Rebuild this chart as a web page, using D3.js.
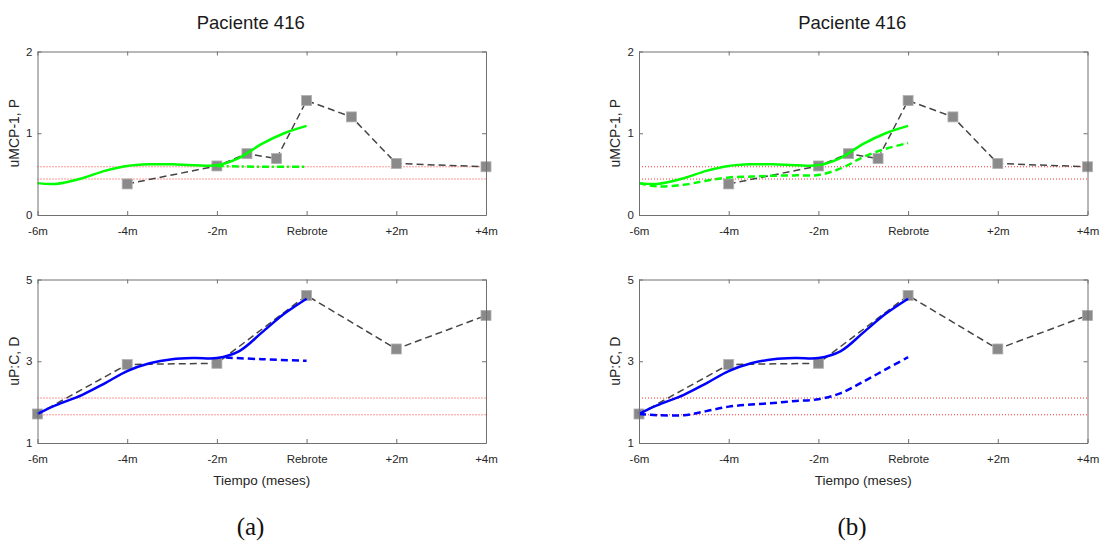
<!DOCTYPE html>
<html>
<head>
<meta charset="utf-8">
<script src="https://d3js.org/d3.v7.min.js"></script>
<style>
  body { margin: 0; background: #fff; }
  svg { display: block; font-family: "Liberation Sans", Arial, sans-serif; }
</style>
</head>
<body>
<svg width="1102" height="547"></svg>
<script>
// x ticks (months relative to the relapse)
var tickMonths = [-6, -4, -2, 0, 2, 4];
var tickLabels = ["-6m", "-4m", "-2m", "Rebrote", "+2m", "+4m"];

// uMCP-1 measurements (grey squares)
var mcpMonths = [-4, -2, -1.33, -0.67, 0, 1, 2, 4];
var mcpValues = [0.38, 0.60, 0.75, 0.69, 1.40, 1.20, 0.63, 0.59];
var mcpLimits = [0.59, 0.44];
var mcpTicks = [0, 1, 2];

// uP:C measurements (grey squares)
var pcMonths = [-6, -4, -2, 0, 2, 4];
var pcValues = [1.71, 2.92, 2.95, 4.61, 3.30, 4.12];
var pcLimits = [2.10, 1.69];
var pcTicks = [1, 3, 5];

// model curves
var fitMonths = [-6, -5.6, -5, -4.5, -4, -3.5, -3, -2.5, -2, -1.5, -1, -0.5, 0];
var mcpFit = [0.39, 0.38, 0.45, 0.54, 0.60, 0.62, 0.62, 0.61, 0.61, 0.70, 0.87, 1.00, 1.09];
var pcFit = [1.71, 1.92, 2.18, 2.46, 2.76, 2.95, 3.05, 3.08, 3.08, 3.25, 3.70, 4.16, 4.53];

var mcpPredAMonths = [-2, -1, 0];
var mcpPredA = [0.60, 0.59, 0.59];
var pcPredAMonths = [-1.8, -1, 0];
var pcPredA = [3.09, 3.05, 3.01];

var mcpPredB = [0.39, 0.35, 0.37, 0.42, 0.46, 0.47, 0.48, 0.485, 0.49, 0.57, 0.71, 0.81, 0.88];
var pcPredB = [1.71, 1.68, 1.68, 1.78, 1.89, 1.94, 1.98, 2.03, 2.07, 2.22, 2.50, 2.80, 3.10];

var svg = d3.select("svg");
var axisColor = "#707070", textColor = "#262626";

function zip(xs, ys) { return xs.map(function(d, i) { return [d, ys[i]]; }); }

function panel(left, top, opt) {
    var w = 448.5, h = 163.5;
    var x = d3.scaleLinear().domain([-6, 4]).range([left, left + w]);
    var y = d3.scaleLinear().domain(opt.domain).range([top + h, top]);
    var g = svg.append("g");

    // red reference limits
    opt.limits.forEach(function(v) {
        g.append("line")
            .attr("x1", x(-6)).attr("x2", x(4))
            .attr("y1", y(v)).attr("y2", y(v))
            .attr("stroke", "#ff3030").attr("stroke-width", 1)
            .attr("stroke-dasharray", "1,2");
    });

    var line = d3.line().x(function(d) { return x(d[0]); }).y(function(d) { return y(d[1]); });
    var smooth = d3.line().curve(d3.curveCatmullRom.alpha(0.5))
        .x(function(d) { return x(d[0]); }).y(function(d) { return y(d[1]); });

    // measured series
    g.append("path").datum(zip(opt.months, opt.values))
        .attr("d", line).attr("fill", "none")
        .attr("stroke", "#444").attr("stroke-width", 1.5)
        .attr("stroke-dasharray", "7,4");
    g.selectAll("rect.m").data(zip(opt.months, opt.values)).enter()
        .append("rect")
        .attr("x", function(d) { return x(d[0]) - 5; })
        .attr("y", function(d) { return y(d[1]) - 5; })
        .attr("width", 10).attr("height", 10)
        .attr("fill", "#8a8a8a").attr("stroke", "#b0b0b0").attr("stroke-width", 0.8);

    // prediction curves
    opt.curves.forEach(function(c) {
        g.append("path").datum(zip(c.months, c.values))
            .attr("d", smooth).attr("fill", "none")
            .attr("stroke", c.color).attr("stroke-width", 2.5)
            .attr("stroke-dasharray", c.dash || null);
    });

    // axes, ticks pointing inward
    var xb = d3.axisBottom(x).tickValues(tickMonths)
        .tickFormat(function(d, i) { return tickLabels[i]; })
        .tickSize(-4).tickSizeOuter(0).tickPadding(12);
    var xt = d3.axisTop(x).tickValues(tickMonths).tickFormat("").tickSize(-4).tickSizeOuter(0);
    var yl = d3.axisLeft(y).tickValues(opt.ticks).tickFormat(d3.format("d"))
        .tickSize(-4).tickSizeOuter(0).tickPadding(5);
    var yr = d3.axisRight(y).tickValues(opt.ticks).tickFormat("").tickSize(-4).tickSizeOuter(0);

    [[xb, "translate(0," + (top + h) + ")"], [xt, "translate(0," + top + ")"],
     [yl, "translate(" + left + ",0)"], [yr, "translate(" + (left + w) + ",0)"]].forEach(function(a) {
        var ax = g.append("g").attr("transform", a[1]).call(a[0]);
        ax.selectAll("path, line").attr("stroke", axisColor);
        ax.selectAll("text").attr("fill", textColor).style("font-size", "11.5px")
            .style("font-family", "Liberation Sans, Arial, sans-serif");
    });

    g.append("text")
        .attr("transform", "translate(" + (left - 19) + "," + (top + h / 2) + ") rotate(-90)")
        .attr("text-anchor", "middle").attr("fill", textColor)
        .style("font-size", "14px").text(opt.ylabel);

    if (opt.title) {
        g.append("text").attr("x", left + w / 2 - 11).attr("y", top - 23)
            .attr("text-anchor", "middle").attr("fill", "#1a1a1a")
            .style("font-size", "18.5px").text(opt.title);
    }
    if (opt.xlabel) {
        g.append("text").attr("x", left + w / 2).attr("y", top + h + 42)
            .attr("text-anchor", "middle").attr("fill", textColor)
            .style("font-size", "13.5px").text(opt.xlabel);
    }
}

var cols = [
    { left: 37.5, tag: "(a)",
      mcpCurves: [{ months: mcpPredAMonths, values: mcpPredA, color: "#00ff00", dash: "7,3,2,3" }],
      pcCurves: [{ months: pcPredAMonths, values: pcPredA, color: "#0000ff", dash: "7,4" }] },
    { left: 639, tag: "(b)",
      mcpCurves: [{ months: fitMonths, values: mcpPredB, color: "#00ff00", dash: "7,4" }],
      pcCurves: [{ months: fitMonths, values: pcPredB, color: "#0000ff", dash: "7,4" }] }
];

cols.forEach(function(c) {
    panel(c.left, 51.5, {
        domain: [0, 2], ticks: mcpTicks, limits: mcpLimits,
        months: mcpMonths, values: mcpValues,
        curves: [{ months: fitMonths, values: mcpFit, color: "#00ff00" }].concat(c.mcpCurves),
        ylabel: "uMCP-1, P", title: "Paciente 416"
    });
    panel(c.left, 279.5, {
        domain: [1, 5], ticks: pcTicks, limits: pcLimits,
        months: pcMonths, values: pcValues,
        curves: [{ months: fitMonths, values: pcFit, color: "#0000ff" }].concat(c.pcCurves),
        ylabel: "uP:C, D", xlabel: "Tiempo (meses)"
    });
    svg.append("text").attr("x", c.left + 213).attr("y", 535)
        .attr("text-anchor", "middle").attr("fill", "#111")
        .style("font-family", "Liberation Serif, DejaVu Serif, serif")
        .style("font-size", "25px").text(c.tag);
});
</script>
</body>
</html>
